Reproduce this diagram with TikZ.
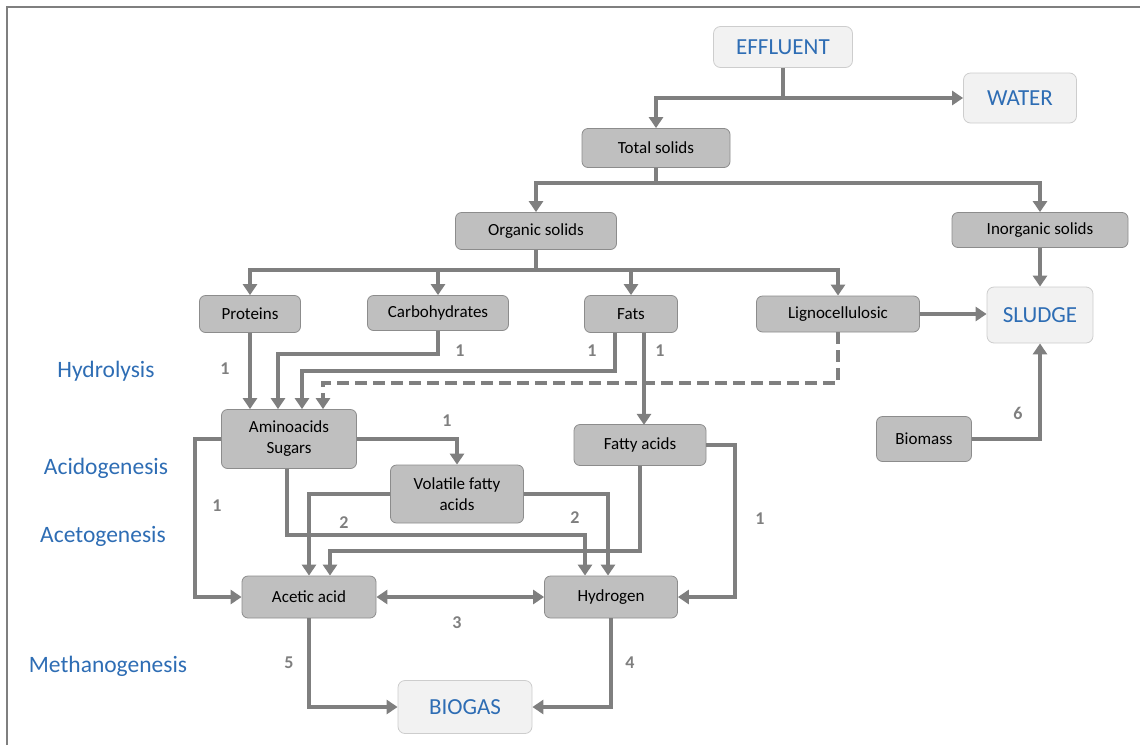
\documentclass[tikz,border=0pt]{standalone}
\usepackage{fontspec}
\setmainfont{Carlito}
\usepackage{tikz}
\usetikzlibrary{arrows.meta,positioning}
\definecolor{boxgray}{HTML}{BFBFBF}
\definecolor{edgegray}{HTML}{8C8C8C}
\definecolor{linegray}{HTML}{7F7F7F}
\definecolor{palegray}{HTML}{F2F2F2}
\definecolor{paleedge}{HTML}{CDCDCD}
\definecolor{phaseblue}{HTML}{2E6DB4}

\begin{document}
\begin{tikzpicture}[x=1pt,y=-1pt,
  proc/.style={draw=edgegray,fill=boxgray,rounded corners=6,line width=0.8,
    inner sep=0pt,align=center,font=\fontsize{17}{21}\selectfont},
  outlet/.style={draw=paleedge,fill=palegray,rounded corners=7,line width=0.8,
    inner sep=0pt,text=phaseblue,font=\fontsize{23}{26}\selectfont},
  phase/.style={inner sep=0pt,text=phaseblue,font=\fontsize{23.5}{26}\selectfont},
  stepno/.style={inner sep=0pt,text=linegray,font=\fontsize{18}{20}\selectfont\bfseries},
  flow/.style={draw=linegray,line width=4,-{Triangle[length=11pt,width=14pt]}},
  twoway/.style={draw=linegray,line width=4,{Triangle[length=11pt,width=14pt]}-{Triangle[length=11pt,width=14pt]}},
  maybe/.style={flow,dash pattern=on 12pt off 6pt}]
\useasboundingbox (0,0) rectangle (1140,745);
\draw [linegray,line width=2.5] (7,745) -- (7,7) -- (1140,7);

\node [outlet,minimum width=139,minimum height=41] (eff) at (783,47) {EFFLUENT};
\node [outlet,minimum width=113,minimum height=50] (water) at (1020,98) {WATER};
\node [proc,minimum width=148,minimum height=39] (ts) at (656,148) {Total solids};
\node [proc,minimum width=161,minimum height=37] (org) at (536,231) {Organic solids};
\node [proc,minimum width=176,minimum height=35] (inorg) at (1040,230) {Inorganic solids};
\node [proc,minimum width=101,minimum height=37] (prot) at (250,314) {Proteins};
\node [proc,minimum width=141,minimum height=35] (carb) at (438,313) {Carbohydrates};
\node [proc,minimum width=93,minimum height=37] (fats) at (631,314) {Fats};
\node [proc,minimum width=163,minimum height=36] (ligno) at (838,314) {Lignocellulosic};
\node [outlet,minimum width=106,minimum height=56] (sludge) at (1040,315) {SLUDGE};
\node [proc,minimum width=135,minimum height=59] (amino) at (289,439) {Aminoacids\\Sugars};
\node [proc,minimum width=132,minimum height=41] (fatty) at (640,445) {Fatty acids};
\node [proc,minimum width=133,minimum height=58] (vfa) at (457,494) {Volatile fatty\\acids};
\node [proc,minimum width=95,minimum height=45] (bio) at (924,439) {Biomass};
\node [proc,minimum width=134,minimum height=42] (acetic) at (309,597) {Acetic acid};
\node [proc,minimum width=133,minimum height=42] (hyd) at (611,597) {Hydrogen};
\node [outlet,minimum width=134,minimum height=53] (biogas) at (465,707) {BIOGAS};

\node [phase] (hydrolysis) at (106,371) {Hydrolysis};
\node [phase] (acido) at (106,468) {Acidogenesis};
\node [phase] (aceto) at (103,536) {Acetogenesis};
\node [phase] (methano) at (108,666) {Methanogenesis};

\node [stepno] (s1a) at (225,369) {1};
\node [stepno] (s1b) at (460,351) {1};
\node [stepno] (s1c) at (592,351) {1};
\node [stepno] (s1d) at (660,351) {1};
\node [stepno] (s1e) at (447,421) {1};
\node [stepno] (s1f) at (217,506) {1};
\node [stepno] (s2a) at (344,523) {2};
\node [stepno] (s2b) at (575,518) {2};
\node [stepno] (s1g) at (760,519) {1};
\node [stepno] (s3) at (457,623) {3};
\node [stepno] (s5) at (289,663) {5};
\node [stepno] (s4) at (630,663) {4};
\node [stepno] (s6) at (1018,413) {6};

\coordinate (effj) at (eff.south |- water.west);
\coordinate (tsj) at (656,183);
\coordinate (orgj) at (536,270);

\draw [flow] (eff.south) |- (water.west);
\draw [flow] (effj) -| (ts.north);
\draw [flow] (ts.south) -- (tsj) -| (org.north);
\draw [flow] (tsj) -| (inorg.north);
\draw [flow] (org.south) -- (orgj) -| (prot.north);
\draw [flow] (orgj) -| (carb.north);
\draw [flow] (orgj) -| (fats.north);
\draw [flow] (orgj) -| (ligno.north);
\draw [flow] (inorg.south) -- (sludge.north);
\draw [flow] (ligno.east) -- (ligno.east -| sludge.west);
\draw [flow] (prot.south) -- (prot.south |- amino.north);
\draw [flow] (carb.south) -- ++(0,23) -| ([xshift=-11]amino.north);
\draw [flow] ([xshift=-16]fats.south) -- ++(0,38) -| ([xshift=13]amino.north);
\draw [maybe] (ligno.south) -- ++(0,51) -| ([xshift=34]amino.north);
\draw [flow] ([xshift=13]fats.south) -- ++(0,92);
\draw [flow] (amino.east) -| (vfa.north);
\draw [flow] (amino.west) -- ++(-26,0) |- (acetic.west);
\draw [flow] ([xshift=-2]amino.south) -- ++(0,66) -| ([xshift=-26]hyd.north);
\draw [flow] (vfa.west) -| (acetic.north);
\draw [flow] (vfa.east) -| ([xshift=-3]hyd.north);
\draw [flow] (fatty.south) -- ++(0,85) -| ([xshift=21]acetic.north);
\draw [flow] (fatty.east) -- ++(29,0) |- (hyd.east);
\draw [twoway] (acetic.east) -- (hyd.west);
\draw [flow] (acetic.south) |- (biogas.west);
\draw [flow] (hyd.south) |- (biogas.east);
\draw [flow] (bio.east) -| (sludge.south);
\end{tikzpicture}
\end{document}
